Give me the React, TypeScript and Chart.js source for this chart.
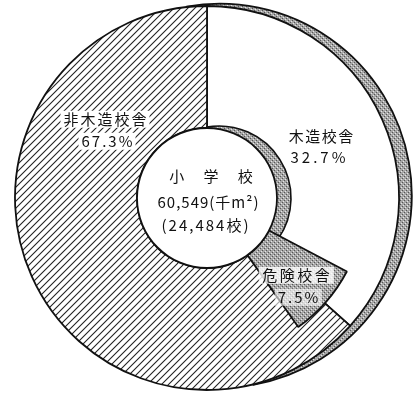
import React, { useEffect, useRef } from 'react';
import { Chart, registerables } from 'chart.js';

Chart.register(...registerables);

// ---------- data ----------
const categories = ['木造校舎', '非木造校舎', '危険校舎'];
const shares = [32.7, 67.3, 7.5]; // % of floor area
// split of the outer band: white (木造) / hatched (非木造)
const outerRing = [36.6, 63.4];
// dotted crescents along the 木造 sector (share of a full turn)
const shadeSpans = [50, 37.5];
const centerLines = ['小 学 校', '60,549(千m²)', '(24,484校)'];

// ---------- layout ----------
const W = 414;
const H = 393;
const CX = 207;
const CY = 198;
const R = 192;
const HOLE = 70;
const PIECE_R = 158;

function makeHatch(): CanvasPattern | string {
  const c = document.createElement('canvas');
  const s = 7;
  c.width = s;
  c.height = s;
  const g = c.getContext('2d');
  if (!g) return '#ddd';
  g.fillStyle = '#ffffff';
  g.fillRect(0, 0, s, s);
  g.strokeStyle = '#222222';
  g.lineWidth = 1.1;
  g.beginPath();
  g.moveTo(-1, s + 1);
  g.lineTo(s + 1, -1);
  g.moveTo(-1, 1);
  g.lineTo(1, -1);
  g.moveTo(s - 1, s + 1);
  g.lineTo(s + 1, s - 1);
  g.stroke();
  return g.createPattern(c, 'repeat') || '#ddd';
}

function makeDots(): CanvasPattern | string {
  const c = document.createElement('canvas');
  c.width = 4;
  c.height = 4;
  const g = c.getContext('2d');
  if (!g) return '#bbb';
  g.fillStyle = '#a6a6a6';
  g.fillRect(0, 0, 4, 4);
  g.fillStyle = '#555555';
  g.fillRect(0, 0, 1, 1);
  g.fillRect(2, 2, 1, 1);
  g.fillStyle = '#e6e6e6';
  g.fillRect(1, 3, 1, 1);
  g.fillRect(3, 1, 1, 1);
  return g.createPattern(c, 'repeat') || '#bbb';
}

type LayerSpec = {
  cx: number;
  cy: number;
  radius: number;
  cutout: number; // px
  data: number[];
  colors: (string | CanvasPattern)[];
  borders: number[];
  rotation: number;
};

function Layer({ make }: { make: () => LayerSpec }) {
  const ref = useRef<HTMLCanvasElement>(null);
  useEffect(() => {
    const s = make();
    const kx = Math.min(s.cx, W - s.cx);
    const ky = Math.min(s.cy, H - s.cy);
    const chart = new Chart(ref.current as HTMLCanvasElement, {
      type: 'doughnut',
      data: {
        labels: s.data.map((_, i) => String(i)),
        datasets: [
          {
            data: s.data,
            backgroundColor: s.colors as any,
            borderColor: '#111111',
            borderWidth: s.borders,
            borderAlign: 'center',
            spacing: 0,
          } as any,
        ],
      },
      options: {
        responsive: false,
        animation: false,
        events: [],
        radius: s.radius,
        cutout: (s.cutout / s.radius) * 100 + '%',
        rotation: s.rotation,
        layout: {
          padding: {
            left: s.cx - kx,
            right: W - s.cx - kx,
            top: s.cy - ky,
            bottom: H - s.cy - ky,
          },
        },
        plugins: { legend: { display: false }, tooltip: { enabled: false } },
      } as any,
    });
    return () => chart.destroy();
  }, []);
  return (
    <canvas
      ref={ref}
      width={W}
      height={H}
      style={{ position: 'absolute', left: 0, top: 0, width: W, height: H }}
    />
  );
}

const T = 'rgba(0,0,0,0)';

const layers: (() => LayerSpec)[] = [
  // outer dotted crescent
  () => ({
    cx: CX + 12.8,
    cy: CY - 2.3,
    radius: R,
    cutout: R - 40,
    data: [shadeSpans[0], 100 - shadeSpans[0]],
    colors: [makeDots(), T],
    borders: [1.8, 0],
    rotation: -10,
  }),
  // main ring
  () => ({
    cx: CX,
    cy: CY,
    radius: R,
    cutout: HOLE,
    data: outerRing,
    colors: ['#ffffff', makeHatch()],
    borders: [1.8, 1.8],
    rotation: 0,
  }),
  // inner dotted crescent
  () => ({
    cx: CX + 12,
    cy: CY,
    radius: HOLE + 2,
    cutout: 0,
    data: [shadeSpans[1], 100 - shadeSpans[1]],
    colors: [makeDots(), T],
    borders: [1.6, 0],
    rotation: -10,
  }),
  // 危険校舎 piece
  () => ({
    cx: CX,
    cy: CY,
    radius: PIECE_R,
    cutout: HOLE,
    data: [shares[2], 100 - shares[2]],
    colors: [makeDots(), T],
    borders: [1.8, 0],
    rotation: (shares[0] / 100) * 360,
  }),
  // centre hole (fill)
  () => ({
    cx: CX,
    cy: CY,
    radius: HOLE,
    cutout: 0,
    data: [100],
    colors: ['#ffffff'],
    borders: [0],
    rotation: 0,
  }),
  // centre hole (outline ring)
  () => ({
    cx: CX,
    cy: CY,
    radius: HOLE + 0.9,
    cutout: HOLE - 0.9,
    data: [100],
    colors: ['#111111'],
    borders: [0],
    rotation: 0,
  }),
];

function Label({
  x,
  y,
  text,
  size = 15,
  ls = 2,
  bg,
}: {
  x: number;
  y: number;
  text: string;
  size?: number;
  ls?: number;
  bg?: string;
}) {
  return (
    <div
      style={{
        position: 'absolute',
        left: x,
        top: y,
        transform: 'translate(-50%, -50%)',
        fontSize: size,
        letterSpacing: ls,
        paddingLeft: ls + 1,
        paddingRight: 1,
        fontFamily: '"Noto Sans CJK JP", "Noto Sans", sans-serif',
        whiteSpace: 'nowrap',
        lineHeight: 1.1,
        color: '#111111',
        background: bg,
      }}
    >
      {text}
    </div>
  );
}

export default function App() {
  return (
    <div
      style={{
        position: 'absolute',
        left: 0,
        top: 0,
        width: W,
        height: H,
        background: '#ffffff',
        overflow: 'hidden',
      }}
    >
      {layers.map((m, i) => (
        <Layer key={i} make={m} />
      ))}
      <Label x={105} y={119} text={categories[1]} bg="#fff" />
      <Label x={107} y={141} text={shares[1] + '%'} bg="#fff" />
      <Label x={321} y={136} text={categories[0]} ls={1.5} />
      <Label x={318} y={157} text={shares[0] + '%'} ls={3} />
      <Label x={296} y={275} text={categories[2]} ls={2.5} bg="rgba(255,255,255,0.8)" />
      <Label x={298} y={297} text={shares[2] + '%'} ls={2} bg="rgba(255,255,255,0.6)" />
      <Label x={211} y={176} text={centerLines[0]} ls={8} />
      <Label x={208} y={202} text={centerLines[1]} ls={1} />
      <Label x={205} y={225} text={centerLines[2]} ls={2} />
    </div>
  );
}
